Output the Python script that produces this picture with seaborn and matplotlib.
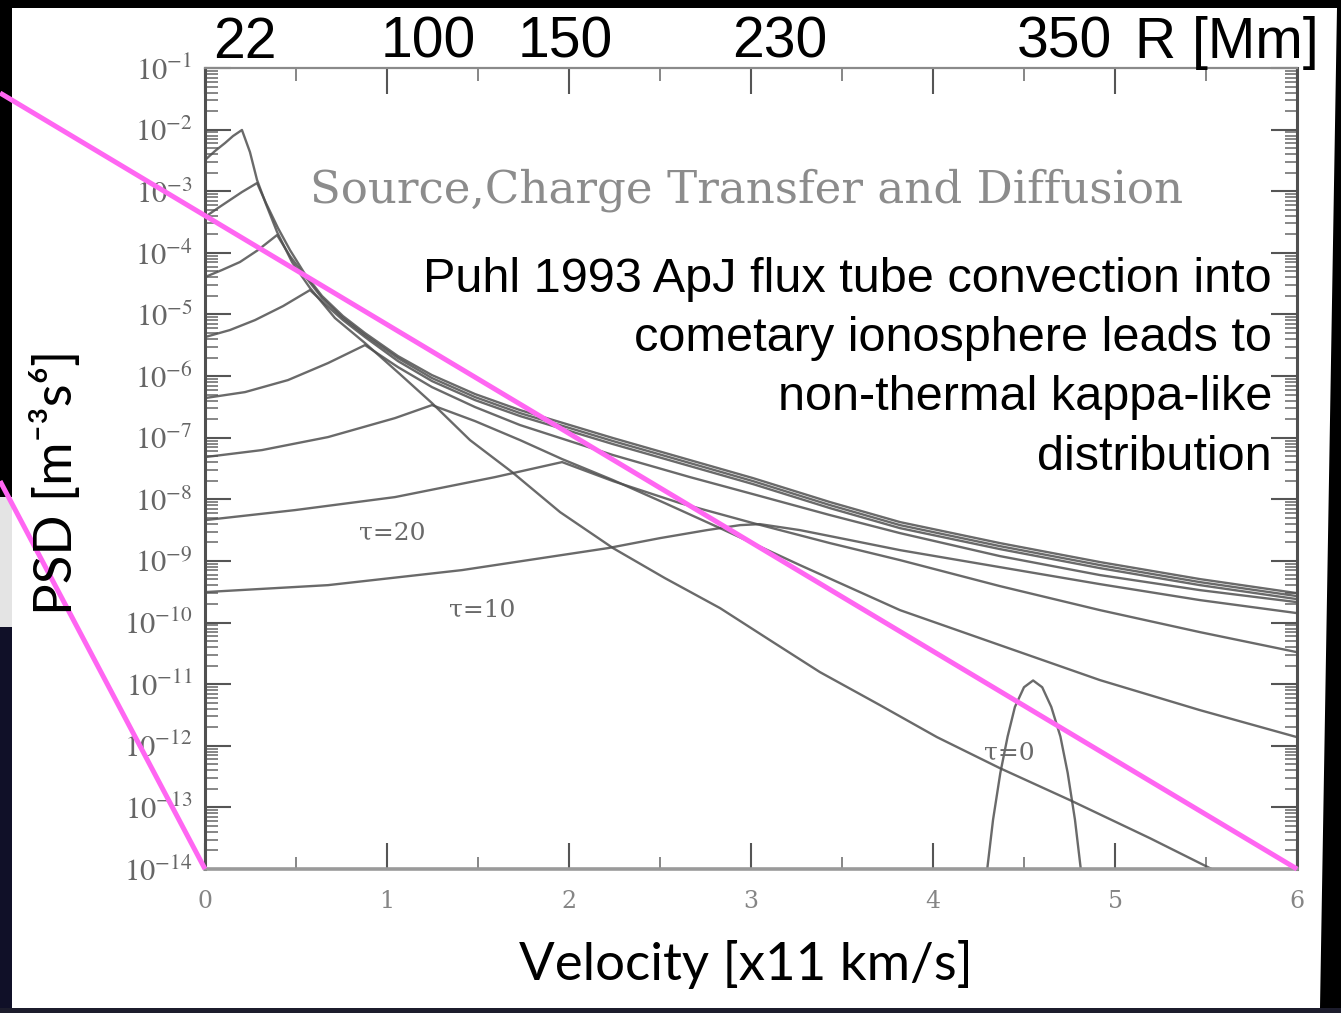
import numpy as np
import pandas as pd
import matplotlib
matplotlib.use("Agg")
import matplotlib.pyplot as plt
from matplotlib.patches import Polygon, Rectangle
from matplotlib.ticker import MultipleLocator, LogLocator, NullFormatter
import seaborn as sns

# ---- phase space density curves: velocity [x11 km/s] and log10 PSD ----
c1_v = [0.00, 0.055, 0.11, 0.154, 0.203, 0.247, 0.286, 0.335, 0.396, 0.478, 0.577, 0.714,
        0.879, 1.071, 1.247, 1.456, 1.687, 1.951, 2.242, 2.527, 2.830, 3.104, 3.379, 3.709,
        4.022, 4.368, 4.753, 5.192, 5.577, 5.70]
c1_logf = [-2.494, -2.347, -2.218, -2.104, -2.006, -2.364, -2.818, -3.208, -3.662, -4.149,
           -4.571, -5.058, -5.464, -5.968, -6.438, -7.039, -7.558, -8.208, -8.792, -9.279,
           -9.766, -10.286, -10.805, -11.341, -11.860, -12.364, -12.883, -13.500, -14.068, -14.30]

c2_v = [0.00, 0.071, 0.137, 0.203, 0.286, 0.335, 0.401, 0.467, 0.549, 0.643, 0.758, 0.879,
        1.060, 1.247, 1.484, 1.731, 2.242, 2.665, 3.011, 3.434, 3.819, 4.368, 4.918, 5.467, 6.00]
c2_logf = [-3.419, -3.273, -3.143, -3.013, -2.867, -3.192, -3.597, -3.955, -4.344, -4.701,
           -5.026, -5.302, -5.675, -5.984, -6.292, -6.552, -7.006, -7.364, -7.656, -8.045,
           -8.370, -8.711, -9.019, -9.295, -9.523]

c3_v = [0.00, 0.093, 0.192, 0.291, 0.396, 0.467, 0.549, 0.643, 0.758, 0.879, 1.060, 1.247,
        1.484, 1.731, 2.242, 2.665, 3.011, 3.434, 3.819, 4.368, 4.918, 5.467, 6.00]
c3_logf = [-4.393, -4.279, -4.149, -3.955, -3.711, -4.052, -4.377, -4.734, -5.058, -5.334,
           -5.708, -6.032, -6.341, -6.601, -7.055, -7.412, -7.705, -8.094, -8.419, -8.760,
           -9.068, -9.344, -9.571]

c4_v = [0.00, 0.137, 0.275, 0.429, 0.577, 0.659, 0.758, 0.879, 1.060, 1.247, 1.484, 1.731,
        2.242, 2.665, 3.011, 3.434, 3.819, 4.368, 4.918, 5.467, 6.00]
c4_logf = [-5.367, -5.253, -5.091, -4.864, -4.604, -4.831, -5.091, -5.367, -5.756, -6.081,
           -6.390, -6.649, -7.104, -7.461, -7.753, -8.143, -8.468, -8.808, -9.117, -9.393, -9.620]

c5_v = [0.00, 0.220, 0.456, 0.676, 0.879, 1.060, 1.247, 1.484, 1.731, 2.242, 2.665, 3.011,
        3.434, 3.819, 4.368, 4.918, 5.467, 6.00]
c5_logf = [-6.357, -6.260, -6.065, -5.789, -5.497, -5.854, -6.179, -6.503, -6.795, -7.282,
           -7.640, -7.916, -8.256, -8.549, -8.922, -9.230, -9.474, -9.669]

c6_v = [0.00, 0.313, 0.676, 1.044, 1.247, 1.484, 1.731, 1.962, 2.242, 2.527, 2.830, 3.269,
        3.819, 4.368, 4.918, 5.467, 6.00]
c6_logf = [-7.315, -7.201, -6.990, -6.682, -6.471, -6.731, -7.039, -7.347, -7.688, -8.062,
           -8.468, -9.068, -9.799, -10.367, -10.935, -11.422, -11.860]

tau20_v = [0.00, 0.495, 1.044, 1.593, 1.962, 2.242, 2.610, 3.011, 3.434, 3.819, 4.368,
           4.918, 5.467, 6.00]
tau20_logf = [-8.338, -8.175, -7.964, -7.640, -7.396, -7.705, -8.062, -8.386, -8.711,
              -8.987, -9.409, -9.799, -10.156, -10.481]

tau10_v = [0.00, 0.676, 1.412, 2.214, 2.500, 2.758, 2.940, 3.049, 3.269, 3.544, 3.819,
           4.368, 4.918, 5.467, 6.00]
tau10_logf = [-9.506, -9.393, -9.149, -8.792, -8.630, -8.500, -8.419, -8.403, -8.500,
              -8.662, -8.825, -9.101, -9.377, -9.636, -9.847]

tau0_v = [4.29, 4.33, 4.37, 4.41, 4.45, 4.50, 4.55, 4.60, 4.65, 4.70, 4.74, 4.78, 4.82]
tau0_logf = [-14.2, -13.2, -12.44, -11.85, -11.37, -11.05, -10.94, -11.05, -11.37, -11.85,
             -12.44, -13.2, -14.2]

# straight power-law guide lines drawn over the figure
guide_a_v = [-1.126, 6.0]
guide_a_psd = [10 ** -1.406, 1e-14]
guide_b_v = [-1.126, 0.0]
guide_b_psd = [10 ** -7.705, 1e-14]

# axis ticks and annotations
x_ticks = [0, 1, 2, 3, 4, 5, 6]
y_exponents = list(range(-14, 0))
radius_labels = ["22", "100", "150", "230", "350"]
note_lines = ["Puhl 1993 ApJ flux tube convection into",
              "cometary ionosphere leads to",
              "non-thermal kappa-like",
              "distribution"]

series = {
    "c1": (c1_v, c1_logf), "c2": (c2_v, c2_logf), "c3": (c3_v, c3_logf),
    "c4": (c4_v, c4_logf), "c5": (c5_v, c5_logf), "c6": (c6_v, c6_logf),
    "tau20": (tau20_v, tau20_logf), "tau10": (tau10_v, tau10_logf),
    "tau0": (tau0_v, tau0_logf),
}
frames = []
for name, (v, lf) in series.items():
    frames.append(pd.DataFrame({"curve": name, "velocity": v,
                                "psd": np.power(10.0, np.asarray(lf))}))
df = pd.concat(frames, ignore_index=True)

sns.set_style("ticks")
plt.rcParams["font.family"] = ["Liberation Sans", "DejaVu Sans"]
plt.rcParams["mathtext.fontset"] = "stix"

W, H = 1341, 1013
fig = plt.figure(figsize=(W / 100, H / 100), dpi=100, facecolor="black")


def fx(px):
    return px / W


def fy(py):
    return 1 - py / H


# slide background: white panel on a dark frame
bg = dict(transform=fig.transFigure, edgecolor="none", zorder=-5)
fig.patches.append(Polygon([(fx(12), fy(8)), (fx(1337), fy(8)), (fx(1320), fy(1008)),
                            (fx(12), fy(1008))], closed=True, facecolor="white", **bg))
fig.patches.append(Rectangle((fx(0), fy(1013)), fx(1341), fy(1008) - fy(1013),
                             facecolor="#1c1c2c", **bg))
fig.patches.append(Rectangle((fx(0), fy(627)), fx(12), fy(497) - fy(627),
                             facecolor="#e4e4e4", **bg))
fig.patches.append(Rectangle((fx(0), fy(1008)), fx(12), fy(627) - fy(1008),
                             facecolor="#101028", **bg))

ax = fig.add_axes([fx(205), fy(869), fx(1297) - fx(205), fy(68) - fy(869)])
ax.set_facecolor("none")
ax.set_yscale("log")
ax.set_xlim(0, 6)
ax.set_ylim(1e-14, 1e-1)

grey = "#505050"
sns.lineplot(data=df, x="velocity", y="psd", hue="curve",
             palette={k: grey for k in series}, estimator=None, sort=False,
             legend=False, linewidth=1.7, alpha=0.85, ax=ax)

# guide lines extend beyond the axes to the figure edge
mag = "#ff66f2"
ax.plot(guide_a_v, guide_a_psd, color=mag, lw=3.6, clip_on=False, zorder=10,
        solid_capstyle="butt")
ax.plot(guide_b_v, guide_b_psd, color=mag, lw=3.6, clip_on=False, zorder=10,
        solid_capstyle="butt")

# axis styling
for side in ["left", "right"]:
    ax.spines[side].set_color("#505050")
    ax.spines[side].set_linewidth(2.2)
ax.spines["top"].set_color("#8a8a8a")
ax.spines["top"].set_linewidth(1.6)
ax.spines["bottom"].set_color("#9a9a9a")
ax.spines["bottom"].set_linewidth(2.6)

ax.set_xticks(x_ticks)
ax.set_xticklabels([str(t) for t in x_ticks])
ax.xaxis.set_minor_locator(MultipleLocator(0.5))
ax.set_yticks([10.0 ** e for e in y_exponents])
ax.set_yticklabels([r"$10^{%d}$" % e for e in y_exponents])
ax.yaxis.set_minor_locator(LogLocator(base=10, subs=np.arange(2, 10), numticks=200))
ax.yaxis.set_minor_formatter(NullFormatter())

ax.tick_params(axis="both", which="major", direction="in", top=True, right=True,
               length=19, width=1.5, color="#555555")
ax.tick_params(axis="both", which="minor", direction="in", top=True, right=True,
               length=9, width=1.1, color="#666666")
ax.tick_params(axis="y", which="major", pad=9, labelsize=22, labelcolor="#666666")
ax.tick_params(axis="x", which="major", pad=15, labelsize=17, labelcolor="#858585")
for lbl in ax.get_xticklabels():
    lbl.set_fontfamily("DejaVu Serif")
ax.set_xlabel("")
ax.set_ylabel("")

# in-plot labels of the scanned figure
fig.text(fx(310), fy(203), "Source,Charge Transfer and Diffusion", family="DejaVu Serif",
         size=32.5, color="#8c8c8c", ha="left", va="baseline")
tau_style = dict(family="DejaVu Serif", size=18, color="#6a6a6a", ha="center", va="center")
ax.text(1.027, 10 ** -8.55, "τ=20", **tau_style)
ax.text(1.522, 10 ** -9.80, "τ=10", **tau_style)
ax.text(4.42, 10 ** -12.12, "τ=0", **tau_style)

# axis titles
fig.text(fx(746), fy(980), "Velocity [x11 km/s]", family="Lato", size=38,
         ha="center", va="baseline", color="black")
fig.text(fx(55), fy(482), "PSD [m⁻³s⁶]", family=["Lato", "DejaVu Sans"], size=38,
         rotation=90, ha="center", va="center", color="black")

# radius scale along the top
for lab, cx in zip(radius_labels, [245, 428, 565, 780, 1064]):
    fig.text(fx(cx), fy(58), lab, size=41, ha="center", va="baseline", color="black")
fig.text(fx(1135), fy(58), "R [Mm]", size=41, ha="left", va="baseline", color="black")

# note
for line, base in zip(note_lines, [292, 351, 410, 470]):
    fig.text(fx(1272), fy(base), line, size=35, ha="right", va="baseline", color="black")

fig.savefig("out.png", dpi=100, facecolor=fig.get_facecolor())
